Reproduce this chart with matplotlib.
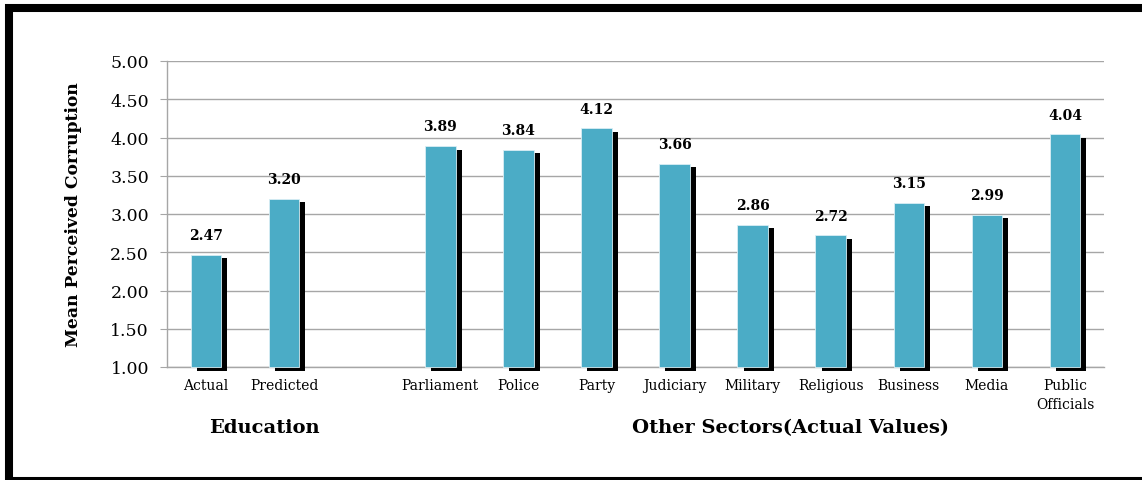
import matplotlib
matplotlib.use("Agg")
from matplotlib import pyplot as plt
from matplotlib import patheffects
from matplotlib.patches import Rectangle

# 数据：教育部门（实际 / 预测）与其他部门的平均腐败感知值
categories = ["Actual", "Predicted", "", "Parliament", "Police", "Party", "Judiciary",
              "Military", "Religious", "Business", "Media", "Public\nOfficials"]
values = [2.47, 3.20, None, 3.89, 3.84, 4.12, 3.66, 2.86, 2.72, 3.15, 2.99, 4.04]
yticks = [1.0, 1.5, 2.0, 2.5, 3.0, 3.5, 4.0, 4.5, 5.0]

plt.rcParams["font.family"] = ["DejaVu Serif"]

fig = plt.figure(figsize=(11.42, 4.81), dpi=100)
ax = fig.add_axes([167 / 1142, 1 - 368 / 481, (1104 - 167) / 1142, (368 - 62) / 481])

xs = [i for i, v in enumerate(values) if v is not None]
hs = [v - 1.0 for v in values if v is not None]
shadow = patheffects.SimplePatchShadow(offset=(4.4, -2.6), shadow_rgbFace="black", alpha=1.0)
bars = ax.bar(xs, hs, bottom=1.0, width=0.39, color="#4bacc6", edgecolor="#d9eef4",
              linewidth=0.6, zorder=3)
for b in bars:
    b.set_path_effects([shadow, patheffects.Normal()])
    b.set_clip_on(False)

for x, h in zip(xs, hs):
    ax.annotate(f"{h + 1.0:.2f}", (x, h + 1.0), xytext=(0, 9), textcoords="offset points",
                ha="center", va="bottom", fontsize=10, fontweight="bold")

ax.set_xlim(-0.5, len(categories) - 0.5)
ax.set_ylim(1.0, 5.0)
ax.set_yticks(yticks)
ax.set_yticklabels([f"{t:.2f}" for t in yticks], fontsize=12.5)
ax.set_xticks(range(len(categories)))
ax.set_xticklabels(categories, fontsize=10, linespacing=1.45)
ax.tick_params(axis="x", length=0, pad=8)
ax.tick_params(axis="y", length=5, color="#a6a6a6", pad=8)
ax.grid(axis="y", color="#a6a6a6", linewidth=1.0, zorder=0)
for side in ["top", "right"]:
    ax.spines[side].set_visible(False)
for side in ["left", "bottom"]:
    ax.spines[side].set_color("#a6a6a6")
    ax.spines[side].set_linewidth(1.0)

ax.set_ylabel("Mean Perceived Corruption", fontsize=12.3, fontweight="bold", labelpad=20)

fig.text(264 / 1142, 1 - 428 / 481, "Education", ha="center", va="center",
         fontsize=14, fontweight="bold")
fig.text(790 / 1142, 1 - 428 / 481, "Other Sectors(Actual Values)", ha="center", va="center",
         fontsize=14, fontweight="bold")

# 外框（右侧与底部在原图中被裁切）
fig.patches.append(Rectangle((8.5 / 1142, -0.002), 1.1, 1 - 9 / 481 + 0.002,
                             transform=fig.transFigure, fill=False, edgecolor="black",
                             linewidth=5.8, clip_on=True))

fig.savefig("out.png", dpi=100)
